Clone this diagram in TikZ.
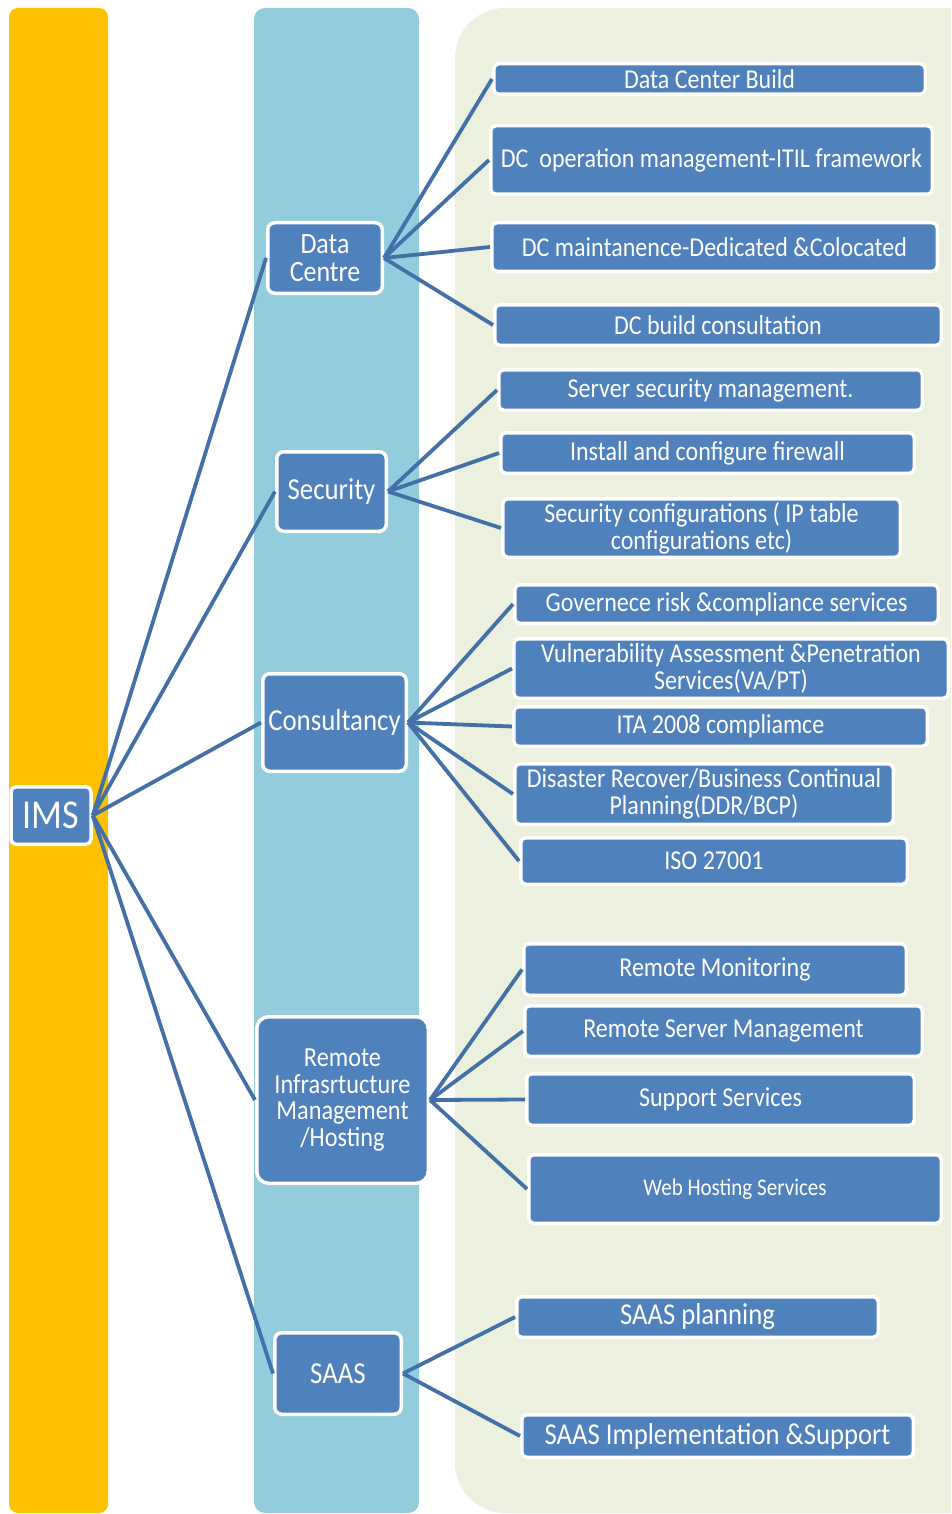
\documentclass[tikz,border=0pt]{standalone}
\usepackage{fontspec}
\setmainfont{Carlito}[FakeStretch=0.88]
\definecolor{imsyellow}{HTML}{FFC000}
\definecolor{colblue}{HTML}{93CDDD}
\definecolor{colbeige}{HTML}{EBF1DE}
\definecolor{nodeblue}{HTML}{4F81BD}
\definecolor{linkblue}{RGB}{68,112,168}
\newcommand{\fsz}[2]{\fontsize{#1}{#2}\selectfont}
\begin{document}
\begin{tikzpicture}[x=1pt,y=-1pt,
  box/.style={fill=nodeblue, draw=white, line width=3.5pt, rounded corners=5pt,
    inner sep=0pt, text=white, align=center},
  leaf/.style={box, font=\fsz{27.3}{27}},
  mid/.style={box, rounded corners=7pt, font=\fsz{29.5}{27.5}},
  link/.style={draw=linkblue, line width=3.8pt}]
\useasboundingbox (0,0) rectangle (951,1514);
\clip (0,0) rectangle (951,1514);
% background columns
\fill[imsyellow, rounded corners=9pt] (9,8) rectangle (108,1513);
\fill[colblue, rounded corners=11pt] (254,8) rectangle (419,1513);
\fill[colbeige, rounded corners=50pt] (455,8) rectangle (1010,1513);

% root
\node[box, font=\fsz{41}{41}, minimum width=80, minimum height=57.5] (ims) at (51,815.5) {IMS};

% middle level
\node[mid, minimum width=114.5, minimum height=70.5] (dc) at (325,258) {Data\\Centre};
\node[mid, font=\fsz{30.5}{27}, minimum width=109.5, minimum height=79.5] (sec) at (331.5,491.5) {Security};
\node[mid, font=\fsz{30.5}{27}, minimum width=143.5, minimum height=97.5] (con) at (334.5,722.5) {Consultancy};
\node[mid, rounded corners=12pt, font=\fsz{27.6}{26.5}, minimum width=171.5, minimum height=166.5] (rim) at (342.5,1100) {Remote\\Infrasrtucture\\Management\\/Hosting};
\node[mid, font=\fsz{30.5}{27}, minimum width=126.5, minimum height=81.5] (saas) at (338,1373.5) {SAAS};

% leaves: data centre
\node[leaf, minimum width=431.5, minimum height=30.5] (l1) at (709.5,79) {Data Center Build};
\node[leaf, minimum width=441.5, minimum height=68.5] (l2) at (711.5,160) {DC\ \ operation management-ITIL framework};
\node[leaf, minimum width=445.5, minimum height=48.5] (l3) at (714.5,247) {DC maintanence-Dedicated \&Colocated};
\node[leaf, minimum width=446.5, minimum height=40.5] (l4) at (718,325) {DC build consultation};
% leaves: security
\node[leaf, minimum width=423.5, minimum height=40.5] (l5) at (710.5,390) {Server security management.};
\node[leaf, minimum width=413.5, minimum height=40.5] (l6) at (707.5,453) {Install and configure firewall};
\node[leaf, minimum width=397.5, minimum height=58.5] (l7) at (701.5,528) {Security configurations ( IP table\\configurations etc)};
% leaves: consultancy
\node[leaf, minimum width=423.5, minimum height=38.5] (l8) at (726.5,604) {Governece risk \&compliance services};
\node[leaf, minimum width=434.5, minimum height=59.5] (l9) at (731,668.5) {Vulnerability Assessment \&Penetration\\Services(VA/PT)};
\node[leaf, minimum width=413.5, minimum height=39.5] (l10) at (720.5,726.5) {ITA 2008 compliamce};
\node[leaf, minimum width=378.5, minimum height=60.5] (l11) at (704,794) {Disaster Recover/Business Continual\\Planning(DDR/BCP)};
\node[leaf, minimum width=386.5, minimum height=46.5] (l12) at (714,861) {ISO 27001};
% leaves: remote
\node[leaf, minimum width=382.5, minimum height=51.5] (l13) at (715,969.5) {Remote Monitoring};
\node[leaf, minimum width=397.5, minimum height=50.5] (l14) at (723.5,1031) {Remote Server Management};
\node[leaf, minimum width=387.5, minimum height=51.5] (l15) at (720.5,1099.5) {Support Services};
\node[leaf, font=\fsz{23.9}{27}, minimum width=412.5, minimum height=68.5] (l16) at (735,1189) {Web Hosting Services};
% leaves: saas
\node[leaf, font=\fsz{30.3}{30}, minimum width=361.5, minimum height=40.5] (l17) at (697.5,1317) {SAAS planning};
\node[leaf, font=\fsz{30.3}{30}, minimum width=391.5, minimum height=42.5] (l18) at (717.5,1436) {SAAS Implementation \&Support};

% connectors
\foreach \m in {dc,sec,con,rim,saas} \draw[link] (ims.east) -- (\m.west);
\foreach \l in {l1,l2,l3,l4} \draw[link] (dc.east) -- (\l.west);
\foreach \l in {l5,l6,l7} \draw[link] (sec.east) -- (\l.west);
\foreach \l in {l8,l9,l10,l11,l12} \draw[link] (con.east) -- (\l.west);
\foreach \l in {l13,l14,l15,l16} \draw[link] (rim.east) -- (\l.west);
\foreach \l in {l17,l18} \draw[link] (saas.east) -- (\l.west);
\end{tikzpicture}
\end{document}
